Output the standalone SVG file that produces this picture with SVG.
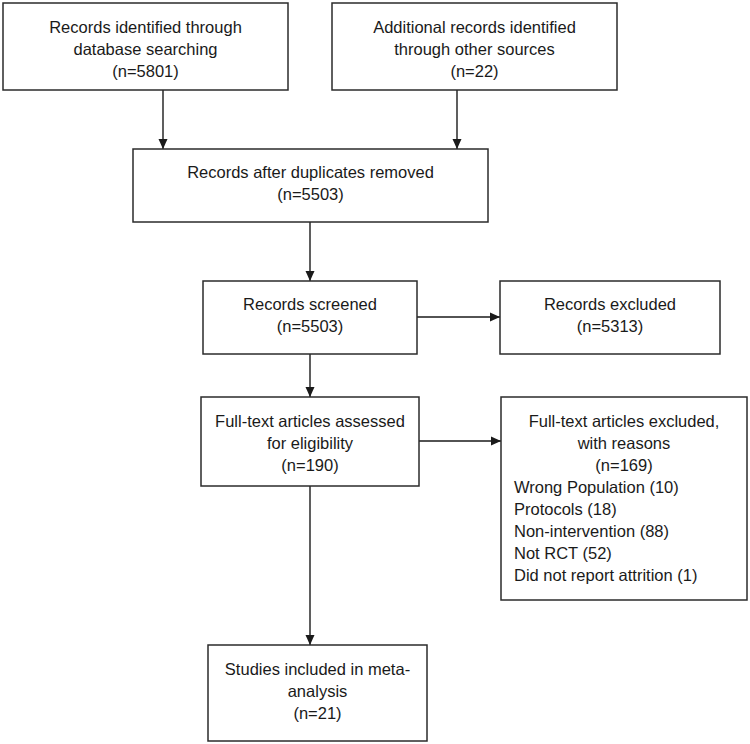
<svg xmlns="http://www.w3.org/2000/svg" width="750" height="744" viewBox="0 0 750 744">
<style>
.box{fill:#ffffff;stroke:#2b2b2b;stroke-width:1.5}
.t{font-family:"Liberation Sans",Arial,sans-serif;font-size:16.5px;fill:#1a1a1a;text-anchor:middle}
.l{text-anchor:start}
.c{stroke:#1a1a1a;stroke-width:1.4;fill:none;marker-end:url(#ah)}
</style>
<defs>
<marker id="ah" markerWidth="11" markerHeight="11" refX="10" refY="5" orient="auto" markerUnits="userSpaceOnUse">
<path d="M0,0.5 L10,5 L0,9.5 Z" fill="#1a1a1a"/>
</marker>
</defs>
<rect width="750" height="744" fill="#ffffff"/>
<g id="connectors">
<line class="c" x1="163" y1="90" x2="163" y2="149"/>
<line class="c" x1="457" y1="90" x2="457" y2="149"/>
<line class="c" x1="310" y1="222" x2="310" y2="281"/>
<line class="c" x1="310" y1="354" x2="310" y2="397"/>
<line class="c" x1="310" y1="486" x2="310" y2="645"/>
<line class="c" x1="417" y1="317" x2="500" y2="317"/>
<line class="c" x1="419" y1="441" x2="501" y2="441"/>
</g>
<g id="db">
<rect class="box" x="3" y="3" width="285" height="87"/>
<text class="t" x="145.5" y="33">Records identified through</text>
<text class="t" x="145.5" y="55">database searching</text>
<text class="t" x="145.5" y="77">(n=5801)</text>
</g>
<g id="other">
<rect class="box" x="332" y="3" width="285" height="87"/>
<text class="t" x="474.5" y="33">Additional records identified</text>
<text class="t" x="474.5" y="55">through other sources</text>
<text class="t" x="474.5" y="77">(n=22)</text>
</g>
<g id="dedup">
<rect class="box" x="133" y="149" width="355" height="73"/>
<text class="t" x="310.5" y="178">Records after duplicates removed</text>
<text class="t" x="310.5" y="200">(n=5503)</text>
</g>
<g id="screened">
<rect class="box" x="203" y="281" width="214" height="73"/>
<text class="t" x="310" y="310">Records screened</text>
<text class="t" x="310" y="332">(n=5503)</text>
</g>
<g id="excluded">
<rect class="box" x="500" y="281" width="220" height="73"/>
<text class="t" x="610" y="310">Records excluded</text>
<text class="t" x="610" y="332">(n=5313)</text>
</g>
<g id="fulltext">
<rect class="box" x="201" y="397" width="218" height="89"/>
<text class="t" x="310" y="427">Full-text articles assessed</text>
<text class="t" x="310" y="449">for eligibility</text>
<text class="t" x="310" y="471">(n=190)</text>
</g>
<g id="ftexcluded">
<rect class="box" x="501" y="397" width="246" height="203"/>
<text class="t" x="624" y="427">Full-text articles excluded,</text>
<text class="t" x="624" y="449">with reasons</text>
<text class="t" x="624" y="471">(n=169)</text>
<text class="t l" x="514" y="493">Wrong Population (10)</text>
<text class="t l" x="514" y="515">Protocols (18)</text>
<text class="t l" x="514" y="537">Non-intervention (88)</text>
<text class="t l" x="514" y="559">Not RCT (52)</text>
<text class="t l" x="514" y="581">Did not report attrition (1)</text>
</g>
<g id="included">
<rect class="box" x="208" y="645" width="219" height="96"/>
<text class="t" x="317.5" y="675">Studies included in meta-</text>
<text class="t" x="317.5" y="697">analysis</text>
<text class="t" x="317.5" y="719">(n=21)</text>
</g>
</svg>
